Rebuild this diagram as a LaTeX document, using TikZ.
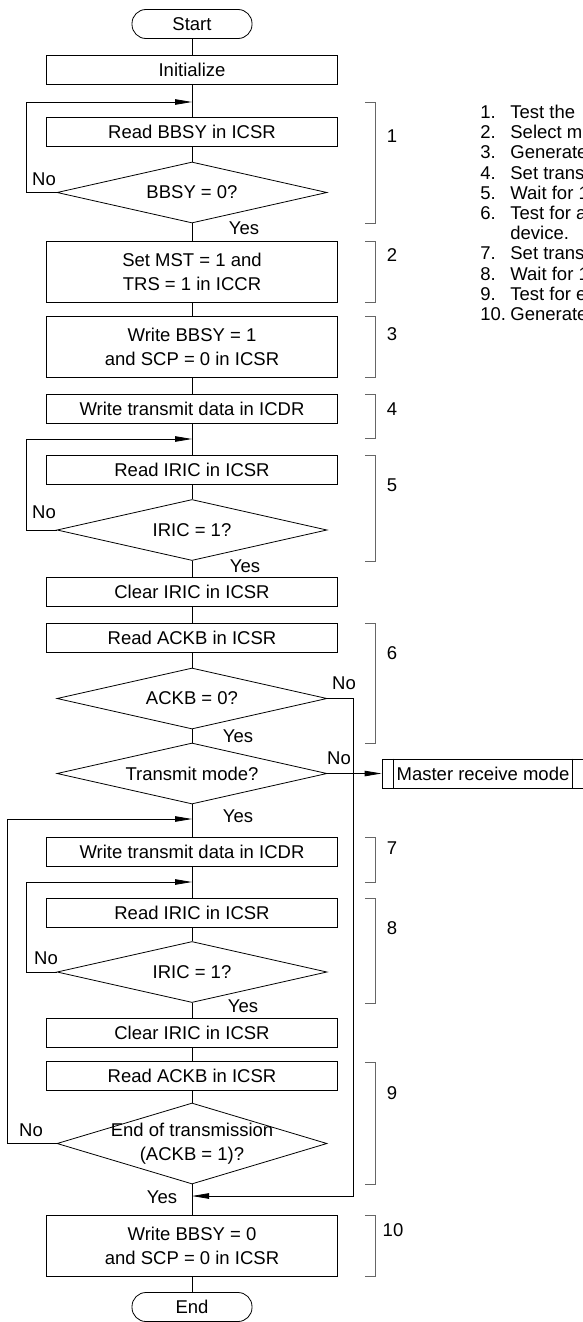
\documentclass[tikz,border=0pt]{standalone}
\usepackage{fontspec}
\setmainfont{Liberation Sans}
\usetikzlibrary{arrows.meta, positioning, calc, shapes.geometric}

\begin{document}
\begin{tikzpicture}[x=1pt, y=-1pt, line width=0.8pt,
    every node/.style={font=\fontsize{18.5}{24}\selectfont},
    term/.style={draw, rounded corners=14pt, minimum width=120pt, minimum height=29pt, inner sep=0pt},
    proc/.style={draw, minimum width=291pt, minimum height=29pt, inner sep=0pt, align=center},
    tall/.style={proc, minimum height=61pt},
    decide/.style={draw, diamond, aspect=4.4, minimum width=270pt, minimum height=61pt,
        inner xsep=-45pt, inner ysep=-6pt, align=center},
    lbl/.style={inner sep=0pt},
    brk/.style={draw=black!60},
    back/.style={-{Triangle[length=17pt, width=5.5pt]}}]
    \useasboundingbox (0,0) rectangle (582,1322);

    % main column
    \node[term] (start) at (192,24) {Start};
    \node[proc] (init) at (192,69.5) {Initialize};
    \node[proc] (rd1) at (192,132) {Read BBSY in ICSR};
    \node[decide] (d1) at (192,192.5) {BBSY = 0?};
    \node[tall] (mst) at (192,271.5) {Set MST = 1 and\\TRS = 1 in ICCR};
    \node[tall] (bbsy1) at (192,346.5) {Write BBSY = 1\\and SCP = 0 in ICSR};
    \node[proc] (wr1) at (192,408.5) {Write transmit data in ICDR};
    \node[proc] (rd2) at (192,469.5) {Read IRIC in ICSR};
    \node[decide] (d2) at (192,530) {IRIC = 1?};
    \node[proc] (clr1) at (192,591.5) {Clear IRIC in ICSR};
    \node[proc] (ack1) at (192,637.5) {Read ACKB in ICSR};
    \node[decide] (d3) at (192,698.5) {ACKB = 0?};
    \node[decide] (d4) at (192,773.5) {Transmit mode?};
    \node[proc] (wr2) at (192,851.5) {Write transmit data in ICDR};
    \node[proc] (rd3) at (192,912.5) {Read IRIC in ICSR};
    \node[decide] (d5) at (192,972) {IRIC = 1?};
    \node[proc] (clr2) at (192,1033) {Clear IRIC in ICSR};
    \node[proc] (ack2) at (192,1076) {Read ACKB in ICSR};
    \node[decide, minimum height=81pt, aspect=3.33] (d6) at (192,1143.5) {End of transmission\\(ACKB = 1)?};
    \node[tall] (bbsy0) at (192,1245.5) {Write BBSY = 0\\and SCP = 0 in ICSR};
    \node[term] (endt) at (192,1307) {End};

    \node[proc, minimum width=202pt] (mrm) at (483,773.5) {Master receive mode};
    \draw ([xshift=12pt]mrm.north west) -- ([xshift=12pt]mrm.south west)
          ([xshift=-12pt]mrm.north east) -- ([xshift=-12pt]mrm.south east);

    % joins
    \coordinate (j1) at (192,102);
    \coordinate (j2) at (192,439);
    \coordinate (j3) at (192,819);
    \coordinate (j4) at (192,882);
    \coordinate (j5) at (192,1196);

    \draw (start) -- (init) (init) -- (rd1) (rd1) -- (d1) (d1) -- (mst)
          (mst) -- (bbsy1) (bbsy1) -- (wr1) (wr1) -- (rd2) (rd2) -- (d2)
          (d2) -- (clr1) (clr1) -- (ack1) (ack1) -- (d3) (d3) -- (d4)
          (d4) -- (wr2) (wr2) -- (rd3) (rd3) -- (d5) (d5) -- (clr2)
          (clr2) -- (ack2) (ack2) -- (d6) (d6) -- (bbsy0) (bbsy0) -- (endt);

    \draw[back] (d1.west) -- ++(-30,0) |- (j1);
    \draw[back] (d2.west) -- ++(-30,0) |- (j2);
    \draw[back] (d5.west) -- ++(-30,0) |- (j4);
    \draw[back] (d6.west) -- ++(-49,0) |- (j3);
    \draw[back] (d3.east) -- ++(26,0) |- (j5);
    \draw[back] (d4.east) -- (mrm.west);

    % yes / no
    \node[lbl] (no1) at (44,179) {No};
    \node[lbl] (yes1) at (244,228) {Yes};
    \node[lbl] (no2) at (44,512) {No};
    \node[lbl] (yes2) at (245,566) {Yes};
    \node[lbl] (no3) at (344,683) {No};
    \node[lbl] (yes3) at (238,736) {Yes};
    \node[lbl] (no4) at (339,758) {No};
    \node[lbl] (yes4) at (238,816) {Yes};
    \node[lbl] (no5) at (46,958) {No};
    \node[lbl] (yes5) at (243,1006) {Yes};
    \node[lbl] (no6) at (31,1130) {No};
    \node[lbl] (yes6) at (162,1197) {Yes};

    % step brackets
    \draw[brk] (365,102) -- (375,102) -- (375,223) -- (365,223);
    \draw[brk] (365,241) -- (375,241) -- (375,302) -- (365,302);
    \draw[brk] (365,316) -- (375,316) -- (375,377) -- (365,377);
    \draw[brk] (365,394) -- (375,394) -- (375,438) -- (365,438);
    \draw[brk] (365,455) -- (375,455) -- (375,561) -- (365,561);
    \draw[brk] (365,623) -- (375,623) -- (375,743) -- (365,743);
    \draw[brk] (365,837) -- (375,837) -- (375,882) -- (365,882);
    \draw[brk] (365,898) -- (375,898) -- (375,1003) -- (365,1003);
    \draw[brk] (365,1062) -- (375,1062) -- (375,1184) -- (365,1184);
    \draw[brk] (365,1215) -- (375,1215) -- (375,1276) -- (365,1276);
    \node[lbl] (s1) at (392,136) {1};
    \node[lbl] (s2) at (392,255) {2};
    \node[lbl] (s3) at (392,334) {3};
    \node[lbl] (s4) at (392,409) {4};
    \node[lbl] (s5) at (392,485) {5};
    \node[lbl] (s6) at (392,653) {6};
    \node[lbl] (s7) at (392,848) {7};
    \node[lbl] (s8) at (392,928) {8};
    \node[lbl] (s9) at (392,1093) {9};
    \node[lbl] (s10) at (393,1230) {10};

    % step notes
    \node[anchor=north west, inner sep=0pt, font=\fontsize{18.5}{20.2}\selectfont] (notes) at (480,104)
        {\begin{tabular}{@{}p{30pt}@{}l@{}}
        1. & Test the\\
        2. & Select m\\
        3. & Generate\\
        4. & Set trans\\
        5. & Wait for 1\\
        6. & Test for a\\
           & device.\\
        7. & Set trans\\
        8. & Wait for 1\\
        9. & Test for e\\
        10. & Generate
        \end{tabular}};
\end{tikzpicture}
\end{document}
